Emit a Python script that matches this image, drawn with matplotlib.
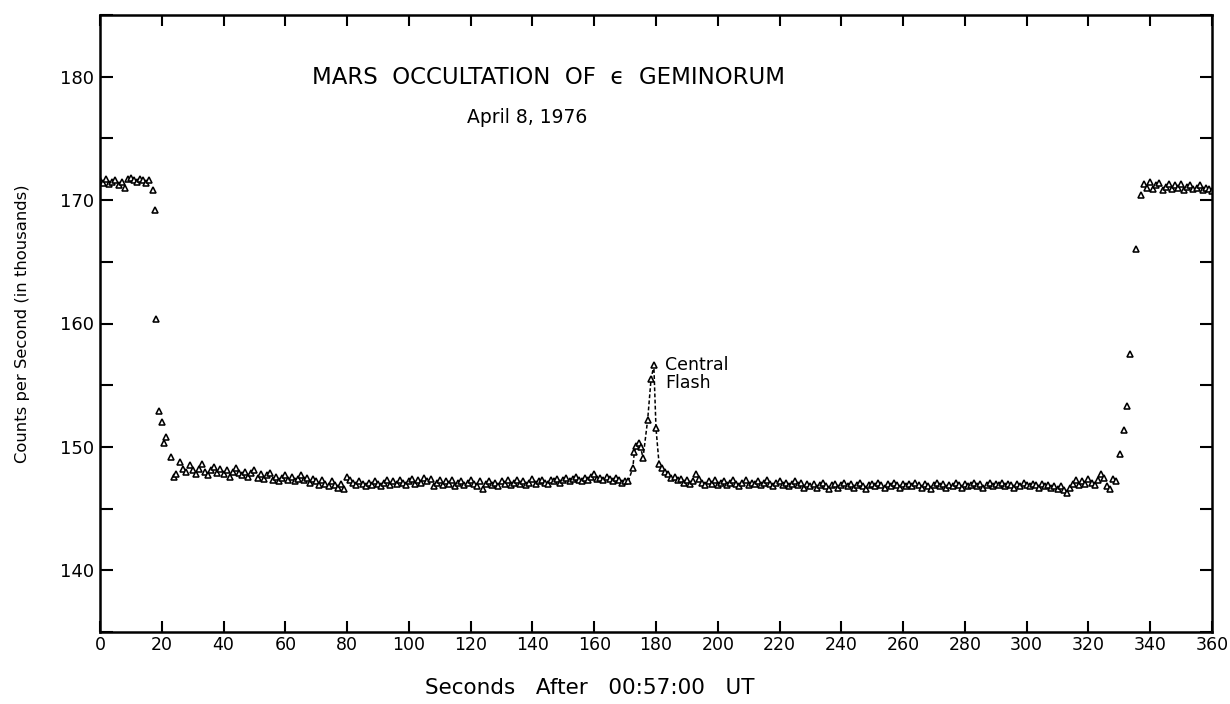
import numpy as np
import matplotlib
matplotlib.use("Agg")
import matplotlib.pyplot as plt
from matplotlib.ticker import MultipleLocator

# seconds after 00:57:00 UT and counts per second (thousands)
t_pre = list(range(0, 17))
c_pre = [171.6, 171.4, 171.7, 171.3, 171.5, 171.6, 171.2, 171.5, 171.0, 171.7,
         171.8, 171.6, 171.5, 171.7, 171.6, 171.4, 171.6]

t_drop = [17.0, 17.8, 18.2, 19.1, 20.0, 20.7, 21.3, 22.9, 24.0, 24.6, 25.9, 27.0]
c_drop = [170.8, 169.2, 160.4, 152.9, 152.0, 150.3, 150.8, 149.2, 147.6, 147.8, 148.8, 148.2]

t_base1 = list(range(28, 172))
c_base1 = [148.0, 148.5, 148.1, 147.8, 148.2, 148.6, 148.0, 147.7, 148.1, 148.4,
           147.9, 148.2, 147.8, 148.1, 147.6, 148.0, 148.3, 147.9, 147.7, 148.0,
           147.6, 147.9, 148.1, 147.5, 147.8, 147.4, 147.7, 147.9, 147.3, 147.6,
           147.2, 147.5, 147.7, 147.3, 147.6, 147.2, 147.4, 147.7, 147.3, 147.5,
           147.1, 147.4, 147.2, 146.9, 147.3, 147.0, 146.8, 147.2, 146.9, 146.7,
           147.0, 146.6, 147.6, 147.3, 147.1, 146.9, 147.2, 147.0, 146.8, 147.1,
           146.9, 147.2, 147.0, 146.8, 147.1, 147.3, 146.9, 147.2, 147.0, 147.3,
           147.1, 146.9, 147.2, 147.4, 147.0, 147.3, 147.1, 147.5, 147.2, 147.4,
           146.8, 147.1, 147.3, 146.9, 147.2, 147.0, 147.3, 146.8, 147.1, 147.2,
           146.9, 147.1, 147.3, 147.0, 146.8, 147.2, 146.6, 147.0, 147.2, 146.9,
           147.1, 146.8, 147.2, 147.0, 147.3, 146.9, 147.1, 147.3, 147.0, 147.2,
           146.9, 147.1, 147.4, 147.0, 147.2, 147.3, 147.1, 147.0, 147.3, 147.2,
           147.4, 147.1, 147.3, 147.5, 147.2, 147.4, 147.6, 147.3, 147.2, 147.5,
           147.3, 147.6, 147.8, 147.4, 147.5, 147.3, 147.6, 147.4, 147.2, 147.5,
           147.3, 147.1, 147.2, 147.2]

t_flash = [172.5, 173.0, 173.6, 174.4, 175.0, 175.8, 177.3, 178.4, 179.3, 180.0, 181.0]
c_flash = [148.3, 149.6, 150.1, 150.3, 150.0, 149.1, 152.2, 155.5, 156.6, 151.5, 148.6]

t_base2 = list(range(182, 330))
c_base2 = [148.3, 148.0, 147.8, 147.5, 147.6, 147.3, 147.4, 147.1, 147.3, 147.0,
           147.2, 147.8, 147.4, 147.1, 146.9, 147.2, 147.0, 147.3, 146.9, 147.1,
           147.2, 146.9, 147.1, 147.3, 147.0, 146.8, 147.1, 147.3, 146.9, 147.1,
           147.0, 147.2, 146.9, 147.1, 147.3, 147.0, 146.8, 147.1, 147.2, 146.9,
           147.1, 146.8, 147.0, 147.2, 146.9, 147.1, 146.7, 147.0, 146.8, 147.0,
           146.7, 146.9, 147.1, 146.8, 146.6, 146.9, 147.0, 146.7, 146.9, 147.1,
           146.8, 147.0, 146.7, 146.9, 147.1, 146.8, 146.6, 146.9, 147.0, 146.8,
           147.1, 146.9, 146.7, 147.0, 146.8, 147.1, 146.9, 146.7, 147.0, 146.8,
           147.0, 146.8, 147.1, 146.9, 146.7, 147.0, 146.8, 146.6, 146.9, 147.1,
           146.8, 147.0, 146.7, 146.9, 146.8, 147.1, 146.9, 146.7, 147.0, 146.8,
           146.9, 147.1, 146.8, 147.0, 146.7, 146.9, 147.1, 146.8, 147.0, 146.9,
           147.1, 146.8, 147.0, 146.9, 146.7, 147.0, 146.8, 147.1, 146.9, 146.8,
           147.0, 146.9, 146.7, 147.0, 146.8, 146.9, 146.7, 146.8, 146.6, 146.8,
           146.5, 146.3, 146.7, 147.0, 147.3, 146.9, 147.2, 147.0, 147.4, 147.1,
           146.9, 147.3, 147.8, 147.5, 146.8, 146.6, 147.4, 147.2]

t_rise = [330.2, 331.4, 332.6, 333.6, 335.5, 337.0]
c_rise = [149.4, 151.4, 153.3, 157.5, 166.0, 170.4]

t_post = list(range(338, 361))
c_post = [171.3, 171.0, 171.5, 170.9, 171.2, 171.4, 170.8, 171.1, 171.3, 170.9,
          171.2, 171.0, 171.3, 170.8, 171.1, 171.2, 170.9, 171.0, 171.2, 170.8,
          171.0, 170.9, 170.7]

t = np.array(t_pre + t_drop + t_base1 + t_flash + t_base2 + t_rise + t_post, dtype=float)
c = np.array(c_pre + c_drop + c_base1 + c_flash + c_base2 + c_rise + c_post)

plt.rcParams['font.family'] = ['DejaVu Sans']
fig = plt.figure(figsize=(12.3, 7.04), dpi=100)
ax = fig.add_axes([100/1230, 1 - 632/704, 1112/1230, 617/704])

# dashed trace through the central flash
sel = (t >= 171) & (t <= 183)
ax.plot(t[sel], c[sel], ls=(0, (2.5, 1.5)), lw=1.1, color='k')
ax.plot(t, c, ls='none', marker='^', ms=4.4, mfc='white', mec='black', mew=1.15)

ax.set_xlim(0, 360)
ax.set_ylim(135, 185)
ax.xaxis.set_major_locator(MultipleLocator(20))
ax.yaxis.set_minor_locator(MultipleLocator(5))
ax.set_yticks([140, 150, 160, 170, 180])

for s in ax.spines.values():
    s.set_linewidth(1.8)
ax.tick_params(axis='x', which='major', direction='in', top=True, bottom=True,
               length=8, width=1.5, labelsize=12.5, pad=3)
ax.tick_params(axis='y', which='both', direction='in', left=True, right=True,
               length=9, width=1.5, labelsize=13, pad=4)

fig.text(590/1230, 1 - 688/704, 'Seconds   After   00:57:00   UT', fontsize=15.5,
         ha='center', va='center')
ax.set_ylabel('Counts per Second (in thousands)', fontsize=11.8, labelpad=22)

ax.text(0.403, 0.898, 'MARS  OCCULTATION  OF  \u03f5  GEMINORUM', transform=ax.transAxes,
        ha='center', va='center', fontsize=16.5)
ax.text(0.384, 0.834, 'April 8, 1976', transform=ax.transAxes,
        ha='center', va='center', fontsize=13.5)
ax.text(183, 155.9, 'Central\nFlash', ha='left', va='center', fontsize=12.5, linespacing=1.05)

fig.savefig('out.png', dpi=100)
